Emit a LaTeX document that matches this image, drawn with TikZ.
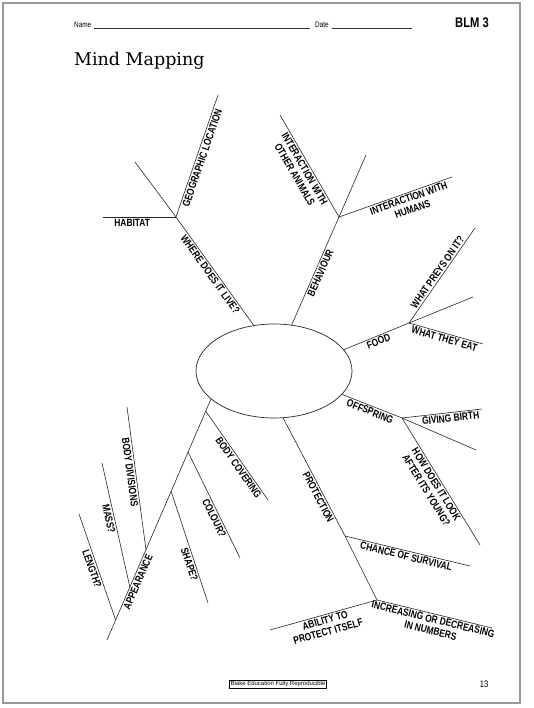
\documentclass[tikz,border=0pt]{standalone}
\usepackage{fontspec}
\setmainfont{Liberation Sans}
\newfontfamily\lblfont[FakeStretch=0.8]{Liberation Sans}
\newfontfamily\titlefont{DejaVu Serif}
\usetikzlibrary{calc,shapes.geometric}
\tikzset{
    branch/.style={draw=black!85,line width=0.6pt},
    lbl/.style={font=\lblfont\bfseries\fontsize{10.5}{11.5}\selectfont,
        sloped,below,inner sep=1.5pt,align=center},
    lblup/.style={lbl,above},
    topicbox/.style={draw=black!85,ellipse,line width=0.7pt,inner sep=0pt,
        minimum width=156pt,minimum height=94pt},
}

\begin{document}
\begin{tikzpicture}[x=1pt,y=-1pt]
\useasboundingbox (0,0) rectangle (533,708);
\draw[black!40,line width=1.2pt] (3,3) rectangle (520,703);

% header
\node[anchor=base west,inner sep=0pt,font=\lblfont\fontsize{8}{8}\selectfont] (name) at (74,28) {Name};
\coordinate (nameE) at (310,28);
\draw[black!80,line width=0.6pt] ([xshift=3pt]name.base east) -- (nameE);
\node[anchor=base west,inner sep=0pt,font=\lblfont\fontsize{8}{8}\selectfont] (date) at (315,28) {Date};
\coordinate (dateE) at (412,28);
\draw[black!80,line width=0.6pt] ([xshift=3pt]date.base east) -- (dateE);
\node[inner sep=0pt,font=\lblfont\bfseries\fontsize{14}{14}\selectfont] (blm) at (472,23) {BLM 3};
\node[anchor=base west,inner sep=0pt,font=\titlefont\fontsize{17.5}{18}\selectfont] (title) at (74,66) {Mind Mapping};

% centre
\node[topicbox] (topic) at (274,371) {};

% branch points
\coordinate (hab) at (176,217);
\coordinate (habW) at (103,217);
\coordinate (habNW) at (135,162);
\coordinate (geo) at (218,95);
\coordinate (beh) at (339,217);
\coordinate (behN) at (366,155);
\coordinate (oth) at (280,115);
\coordinate (hum) at (452,177);
\coordinate (food) at (409,323);
\coordinate (prey) at (475,228);
\coordinate (foodE) at (473,297);
\coordinate (eat) at (483,344);
\coordinate (off) at (402,418);
\coordinate (birth) at (482,409);
\coordinate (offE) at (476,450);
\coordinate (young) at (480,545);
\coordinate (prot) at (345,536);
\coordinate (protS) at (377,600);
\coordinate (surv) at (470,566);
\coordinate (abil) at (270,630);
\coordinate (incr) at (492,628);
\coordinate (appS) at (107,640);

% habitat
\draw[branch] (topic.114.5) -- node[lbl] (lWhere) {WHERE DOES IT LIVE?} (hab) -- (habNW);
\draw[branch] (hab) -- node[lbl] (lGeo) {GEOGRAPHIC LOCATION} (geo);
\draw[branch] (habW) -- node[lbl,pos=0.4] (lHab) {HABITAT} (hab);

% behaviour
\draw[branch] (topic.69.7) -- node[lbl] (lBeh) {BEHAVIOUR} (beh) -- (behN);
\draw[branch] (oth) -- node[lbl] (lOth) {INTERACTION WITH\\OTHER ANIMALS} (beh);
\draw[branch] (beh) -- node[lbl,pos=0.6] (lHum) {INTERACTION WITH\\HUMANS} (hum);

% food
\draw[branch] (topic.17.7) -- node[lbl] (lFood) {FOOD} (food);
\draw[branch] (food) -- node[lblup] (lPrey) {WHAT PREYS ON IT?} (prey);
\draw[branch] (food) -- (foodE);
\draw[branch] (food) -- node[lbl] (lEat) {WHAT THEY EAT} (eat);

% offspring
\draw[branch] (topic.-19.4) -- node[lbl] (lOff) {OFFSPRING} (off);
\draw[branch] (off) -- node[lbl,pos=0.6] (lBirth) {GIVING BIRTH} (birth);
\draw[branch] (off) -- (offE);
\draw[branch] (off) -- node[lbl] (lYoung) {HOW DOES IT LOOK\\AFTER ITS YOUNG?} (young);

% protection
\draw[branch] (topic.-79) -- node[lbl,pos=0.65] (lProt) {PROTECTION} (prot) -- (protS);
\draw[branch] (prot) -- node[lbl] (lSurv) {CHANCE OF SURVIVAL} (surv);
\draw[branch] (abil) -- node[lbl] (lAbil) {ABILITY TO\\PROTECT ITSELF} (protS);
\draw[branch] (protS) -- node[lbl] (lIncr) {INCREASING OR DECREASING\\IN NUMBERS} (incr);

% appearance
\draw[branch] (appS) -- node[lbl,pos=0.25] (lApp) {APPEARANCE} (topic.204.7);
\foreach \t/\ex/\ey/\txt/\p [count=\i] in {0.05/268/500/BODY COVERING/0.6,
    0.22/240/558/COLOUR?/0.6, 0.383/208/603/SHAPE?/0.64} {
    \coordinate (appR\i) at ($(topic.204.7)!\t!(appS)$);
    \coordinate (endR\i) at (\ex,\ey);
    \draw[branch] (appR\i) -- node[lbl,pos=\p] (lblR\i) {\txt} (endR\i);
}
\foreach \t/\ex/\ey/\txt/\p [count=\i] in {0.625/127/407/BODY DIVISIONS/0.45,
    0.78/102/463/MASS?/0.44, 0.917/79/514/LENGTH?/0.5} {
    \coordinate (appL\i) at ($(topic.204.7)!\t!(appS)$);
    \coordinate (endL\i) at (\ex,\ey);
    \draw[branch] (endL\i) -- node[lbl,pos=\p] (lblL\i) {\txt} (appL\i);
}

% footer
\node[draw=black,line width=0.5pt,inner sep=1pt,font=\fontsize{6}{6}\selectfont] (foot) at (278,684) {Blake Education Fully Reproducible};
\node[inner sep=0pt,font=\lblfont\fontsize{9.5}{10}\selectfont] (page) at (484,684) {13};
\end{tikzpicture}
\end{document}
